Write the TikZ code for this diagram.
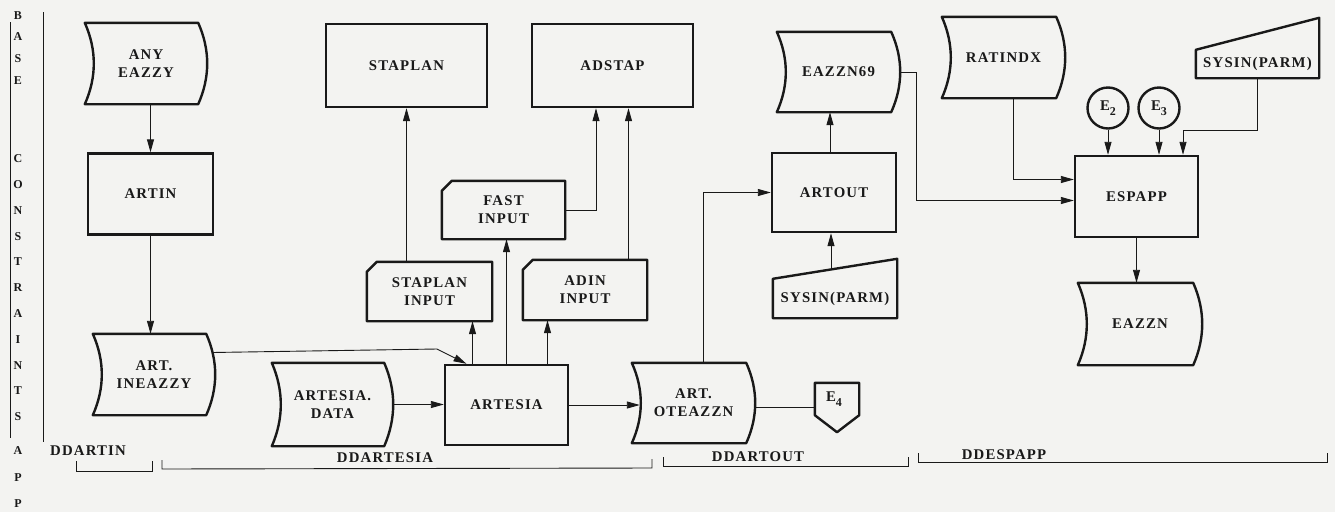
\documentclass[tikz,border=0pt]{standalone}
\usepackage{fontspec}
\setmainfont[LetterSpace=8]{Liberation Serif}
\usetikzlibrary{arrows.meta,calc}
\definecolor{paper}{RGB}{243,243,241}
\definecolor{ink}{RGB}{25,25,25}
% storage symbol: name, x1, y1, x2, y2, text  (y grows downward)
\newcommand\store[6]{%
  \node[txt, minimum width={(#4-#2)*1pt}, minimum height={(#5-#3)*1pt}] (#1) at ({(#2+#4)/2},{(#3+#5)/2}) {#6};
  \draw[box] (#1.north west) .. controls +(12,{(#5-#3)/3}) and +(12,{-(#5-#3)/3}) .. (#1.south west)
     -- ([xshift=-9pt]#1.south east) .. controls +(12,{-(#5-#3)/3}) and +(12,{(#5-#3)/3}) .. ([xshift=-9pt]#1.north east) -- cycle;
}
\newcommand\card[1]{%
  \draw[box] ([xshift=10pt]#1.north west) -- (#1.north east) -- (#1.south east) -- (#1.south west) -- ([yshift=-10pt]#1.north west) -- cycle;
}
\newcommand\subx[1]{\raisebox{-5pt}{\fontsize{12}{12}\selectfont #1}}
\begin{document}
\begin{tikzpicture}[x=1pt,y=-1pt,
  box/.style={draw=ink, line width=2.4pt, line join=round},
  txt/.style={font=\fontsize{14.8}{18}\selectfont\bfseries, text=ink, align=center, inner sep=0pt},
  rect/.style={txt, draw=ink, line width=2.4pt},
  conn/.style={draw=ink, line width=0.9pt},
  arr/.style={conn, -{Triangle[length=13pt,width=7pt]}},
  side/.style={font=\fontsize{12}{21.8}\selectfont\bfseries, text=ink, align=center, inner sep=0pt},
  brk/.style={draw=ink, line width=0.9pt}]
\fill[paper] (0,0) rectangle (1335,512);
\useasboundingbox (0,0) rectangle (1335,512);

% left margin
\draw[brk] (10,22) -- (10,438);
\draw[brk] (43,12) -- (43,442);
\node[side, anchor=north] (base) at (18,11) {B\\A\\S\\E};
\node[side, anchor=north, font=\fontsize{12}{25.8}\selectfont\bfseries] (constr) at (18,154.5) {C\\O\\N\\S\\T\\R\\A\\I\\N\\T\\S};
\node[side, anchor=north, font=\fontsize{12}{26.5}\selectfont\bfseries] (app) at (18,446.5) {A\\P\\P};

% DDARTIN
\store{anyeazzy}{85}{23}{207}{104}{ANY\\EAZZY}
\node[rect, minimum width=125, minimum height=81] (artin) at (150.5,194) {ARTIN};
\store{ineazzy}{93}{334}{215}{415}{ART.\\INEAZZY}

% DDARTESIA
\store{data}{272}{363}{393}{446}{ARTESIA.\\DATA}
\node[rect, minimum width=123, minimum height=80] (artesia) at (506.5,405) {ARTESIA};
\node[txt, minimum width=125, minimum height=59] (stinput) at (429.5,291.5) {STAPLAN\\INPUT}; \card{stinput}
\node[txt, minimum width=123, minimum height=58] (fast) at (503.5,210) {FAST\\INPUT}; \card{fast}
\node[txt, minimum width=124, minimum height=60] (adin) at (585,290) {ADIN\\INPUT}; \card{adin}
\node[rect, minimum width=161, minimum height=83] (staplan) at (406.5,65.5) {STAPLAN};
\node[rect, minimum width=161, minimum height=83] (adstap) at (612.5,65.5) {ADSTAP};

% DDARTOUT
\store{oteazzn}{632}{363}{755}{443}{ART.\\OTEAZZN}
\node[rect, minimum width=124, minimum height=79] (artout) at (834,192.5) {ARTOUT};
\store{eazzn69}{777}{32}{900}{112}{EAZZN69}
\node[txt, minimum width=124, minimum height=39] (sysina) at (835,298.5) {SYSIN(PARM)};
\draw[box] (sysina.south west) -- (sysina.north west) -- ([yshift=20pt]sysina.north east) -- (sysina.south east) -- cycle;
\node[txt, minimum width=44, minimum height=49] (e4) at (837,407.5) {\hspace*{-6pt}\raisebox{6pt}[0pt][0pt]{E\subx{4}}};
\draw[box] (e4.north west) -- (e4.north east) -- ([yshift=17pt]e4.south east) -- (e4.south) -- ([yshift=17pt]e4.south west) -- cycle;

% DDESPAPP
\store{ratindx}{942}{17}{1065}{98}{RATINDX}
\node[rect, minimum width=123, minimum height=81] (espapp) at (1136.5,196.5) {ESPAPP};
\node[rect, circle, minimum size=41] (e2) at (1108,108) {E\subx{2}};
\node[rect, circle, minimum size=41] (e3) at (1159,108) {E\subx{3}};
\node[txt, minimum width=123, minimum height=28] (sysinb) at (1257.5,64) {SYSIN(PARM)};
\draw[box] (sysinb.south west) -- (sysinb.north west) -- ([yshift=32pt]sysinb.north east) -- (sysinb.south east) -- cycle;
\store{eazzn}{1078}{283}{1202}{365}{EAZZN}

% connectors
\draw[arr] (anyeazzy.south -| artin.north) -- (artin.north);
\draw[arr] (artin.south) -- (artin.south |- ineazzy.north);
\draw[arr] ([shift={(-3,-22)}]ineazzy.east) -- (437,349) -- ([xshift=-40pt]artesia.north);
\draw[arr] (data.east) -- (data.east -| artesia.west);
\draw[arr] ([xshift=-34pt]artesia.north) -- ([xshift=-34pt]artesia.north |- stinput.south);
\draw[arr] (artesia.north) -- (artesia.north |- fast.south);
\draw[arr] ([xshift=41pt]artesia.north) -- ([xshift=41pt]artesia.north |- adin.south);
\draw[arr] (staplan.south |- stinput.north) -- (staplan.south);
\draw[arr] (fast.east) -| ([xshift=-16.5pt]adstap.south);
\draw[arr] ([xshift=16pt]adstap.south |- adin.north) -- ([xshift=16pt]adstap.south);
\draw[arr] (artesia.east) -- ([xshift=8pt]oteazzn.west |- artesia.east);
\draw[arr] ([xshift=10pt]oteazzn.north) |- (artout.west);
\draw[arr] ([xshift=-4pt]artout.north) -- ([xshift=-4pt]artout.north |- eazzn69.south);
\draw[arr] ([shift={(-4,-10)}]sysina.north) -- ([xshift=-4pt]sysina.north |- artout.south);
\draw[conn] (oteazzn.east |- e4.west) -- (e4.west);
\draw[arr] (eazzn69.east) -- ++(16,0) |- ([yshift=-4pt]espapp.west);
\draw[arr] ([xshift=10pt]ratindx.south) |- ([yshift=17pt]espapp.west);
\draw[arr] (e2.south) -- (e2.south |- espapp.north);
\draw[arr] (e3.south) -- (e3.south |- espapp.north);
\draw[arr] (sysinb.south) -- ++(0,52) -| ([xshift=46.5pt]espapp.north);
\draw[arr] (espapp.south) -- (espapp.south |- eazzn.north);

% bottom labels and brackets
\node[txt] (lartin) at (88,451) {DDARTIN};
\node[txt] (lartesia) at (385,458) {DDARTESIA};
\node[txt] (lartout) at (758,457) {DDARTOUT};
\node[txt] (lespapp) at (1004,455) {DDESPAPP};
\draw[brk] (76,461) -- (76,471) -- (152,471) -- (152,461);
\draw[brk] (162,460) -- (162,469) -- (652,468) -- (652,459);
\draw[brk] (663,457) -- (663,466) -- (908,466) -- (908,457);
\draw[brk] (918,453) -- (918,462) -- (1327,462) -- (1327,453);
\end{tikzpicture}
\end{document}
